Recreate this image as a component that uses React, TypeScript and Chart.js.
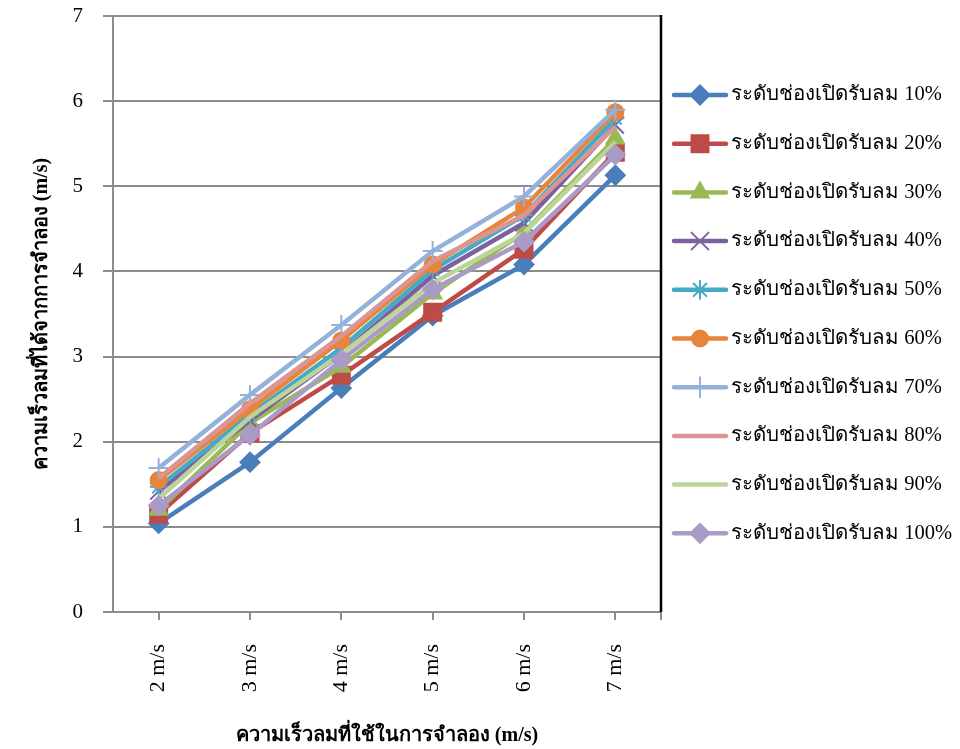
import React, { useEffect, useRef } from "react";
import { Chart, registerables } from "chart.js";
import { drawPoint } from "chart.js/helpers";

Chart.register(...registerables);

// Wind speed used in the simulation (category axis)
const categories = ["2 m/s", "3 m/s", "4 m/s", "5 m/s", "6 m/s", "7 m/s"];

// Simulated wind speed for each vent-opening level (m/s)
const open10 = [1.04, 1.76, 2.63, 3.48, 4.08, 5.13];
const open20 = [1.15, 2.1, 2.78, 3.52, 4.26, 5.4];
const open30 = [1.2, 2.22, 2.88, 3.74, 4.46, 5.56];
const open40 = [1.42, 2.25, 3.03, 3.95, 4.57, 5.72];
const open50 = [1.47, 2.32, 3.1, 4.02, 4.66, 5.8];
const open60 = [1.55, 2.38, 3.19, 4.08, 4.75, 5.87];
const open70 = [1.69, 2.55, 3.37, 4.24, 4.88, 5.9];
const open80 = [1.57, 2.45, 3.24, 4.12, 4.66, 5.7];
const open90 = [1.33, 2.29, 3.03, 3.86, 4.45, 5.52];
const open100 = [1.25, 2.08, 2.96, 3.79, 4.35, 5.37];

const seriesLabels = [
  "ระดับช่องเปิดรับลม 10%",
  "ระดับช่องเปิดรับลม 20%",
  "ระดับช่องเปิดรับลม 30%",
  "ระดับช่องเปิดรับลม 40%",
  "ระดับช่องเปิดรับลม 50%",
  "ระดับช่องเปิดรับลม 60%",
  "ระดับช่องเปิดรับลม 70%",
  "ระดับช่องเปิดรับลม 80%",
  "ระดับช่องเปิดรับลม 90%",
  "ระดับช่องเปิดรับลม 100%",
];
const seriesValues = [open10, open20, open30, open40, open50, open60, open70, open80, open90, open100];

const xTitle = "ความเร็วลมที่ใช้ในการจำลอง (m/s)";
const yTitle = "ความเร็วลมที่ได้จากการจำลอง (m/s)";

const FONT = "'Liberation Serif', 'Times New Roman', serif";

type Style = { color: string; point: string | false; radius: number; pw: number };
const styles: Style[] = [
  { color: "#4A7EBB", point: "rectRot", radius: 9.5, pw: 2 },
  { color: "#BE4B48", point: "rect", radius: 12, pw: 2 },
  { color: "#98B954", point: "triangle", radius: 10, pw: 2 },
  { color: "#7D60A0", point: "crossRot", radius: 12, pw: 2 },
  { color: "#46AAC5", point: "star", radius: 9, pw: 2 },
  { color: "#E8843C", point: "circle", radius: 8, pw: 2 },
  { color: "#93B1D9", point: "cross", radius: 10, pw: 2 },
  { color: "#D99694", point: false, radius: 0, pw: 0 },
  { color: "#BDD498", point: false, radius: 0, pw: 0 },
  { color: "#A99BC6", point: "rectRot", radius: 9.5, pw: 2 },
];

const LINE_W = 4.5;

// Legend drawn beside the plot: line sample with marker, then label
const sideLegend = {
  id: "sideLegend",
  afterDraw(chart: any) {
    const ctx = chart.ctx as CanvasRenderingContext2D;
    const area = chart.chartArea;
    // black right-hand frame of the plot area
    ctx.save();
    ctx.strokeStyle = "#000";
    ctx.lineWidth = 2.5;
    ctx.beginPath();
    ctx.moveTo(area.right, area.top - 1);
    ctx.lineTo(area.right, area.bottom);
    ctx.stroke();
    ctx.strokeStyle = "#8c8c8c";
    ctx.lineWidth = 2;
    ctx.beginPath();
    ctx.moveTo(area.right, area.bottom);
    ctx.lineTo(area.right, area.bottom + 8);
    ctx.stroke();
    ctx.restore();

    const top = 95;
    const step = 48.7;
    seriesLabels.forEach((label, i) => {
      const s = styles[i];
      const y = top + i * step;
      ctx.save();
      ctx.strokeStyle = s.color;
      ctx.lineWidth = LINE_W;
      ctx.lineCap = "round";
      ctx.beginPath();
      ctx.moveTo(674, y);
      ctx.lineTo(726, y);
      ctx.stroke();
      if (s.point) {
        ctx.fillStyle = s.color;
        ctx.strokeStyle = s.color;
        ctx.lineWidth = s.pw;
        drawPoint(ctx, { pointStyle: s.point as any, radius: s.radius, rotation: 0, borderWidth: s.pw }, 700, y);
      }
      ctx.fillStyle = "#000";
      ctx.font = `20.5px ${FONT}`;
      ctx.textAlign = "left";
      ctx.textBaseline = "middle";
      ctx.fillText(label, 731, y);
      ctx.restore();
    });
  },
};

export default function App() {
  const ref = useRef<HTMLCanvasElement | null>(null);

  useEffect(() => {
    document.body.style.margin = "0";
    const canvas = ref.current;
    if (!canvas) return;

    const datasets = seriesValues.map((values, i) => {
      const s = styles[i];
      return {
        label: seriesLabels[i],
        data: values,
        borderColor: s.color,
        backgroundColor: s.color,
        borderWidth: LINE_W,
        pointStyle: (s.point || "circle") as any,
        pointRadius: s.radius,
        pointHoverRadius: s.radius,
        pointBorderWidth: s.pw,
        pointBackgroundColor: s.color,
        pointBorderColor: s.color,
        tension: 0,
        order: seriesValues.length - 1 - i,
      };
    });

    const chart = new Chart(canvas, {
      type: "line",
      data: { labels: categories, datasets },
      options: {
        responsive: false,
        animation: false,
        events: [],
        layout: { padding: { top: 16, right: 299, left: 0, bottom: 0 } },
        plugins: {
          legend: { display: false },
          tooltip: { enabled: false },
        },
        scales: {
          x: {
            offset: true,
            grid: {
              drawOnChartArea: false,
              drawTicks: true,
              tickLength: 8,
              color: "#8c8c8c",
              lineWidth: 2,
            },
            border: { color: "#8c8c8c", width: 2 },
            ticks: {
              minRotation: 90,
              maxRotation: 90,
              padding: 24,
              color: "#000",
              font: { family: FONT, size: 22 },
            },
            title: {
              display: true,
              text: xTitle,
              color: "#000",
              font: { family: FONT, size: 20, weight: "bold" },
              padding: { top: 0, bottom: 1 },
            },
            afterFit(scale: any) {
              scale.height = 749 - 612;
              scale.paddingLeft = 0;
              scale.paddingRight = 0;
            },
          },
          y: {
            min: 0,
            max: 7,
            ticks: {
              stepSize: 1,
              padding: 20,
              color: "#000",
              font: { family: FONT, size: 21 },
            },
            grid: {
              color: "#8c8c8c",
              lineWidth: 2,
              tickLength: 10,
            },
            border: { color: "#8c8c8c", width: 2 },
            title: {
              display: true,
              text: yTitle,
              color: "#000",
              font: { family: FONT, size: 20, weight: "bold" },
              padding: { top: 30, bottom: 0 },
            },
            afterFit(scale: any) {
              scale.width = 113;
              scale.paddingTop = 0;
              scale.paddingBottom = 0;
            },
          },
        },
      },
      plugins: [sideLegend],
    });

    return () => chart.destroy();
  }, []);

  return (
    <div style={{ position: "absolute", left: 0, top: 0, width: 960, height: 749 }}>
      <canvas ref={ref} width={960} height={749} style={{ width: 960, height: 749 }} />
    </div>
  );
}
